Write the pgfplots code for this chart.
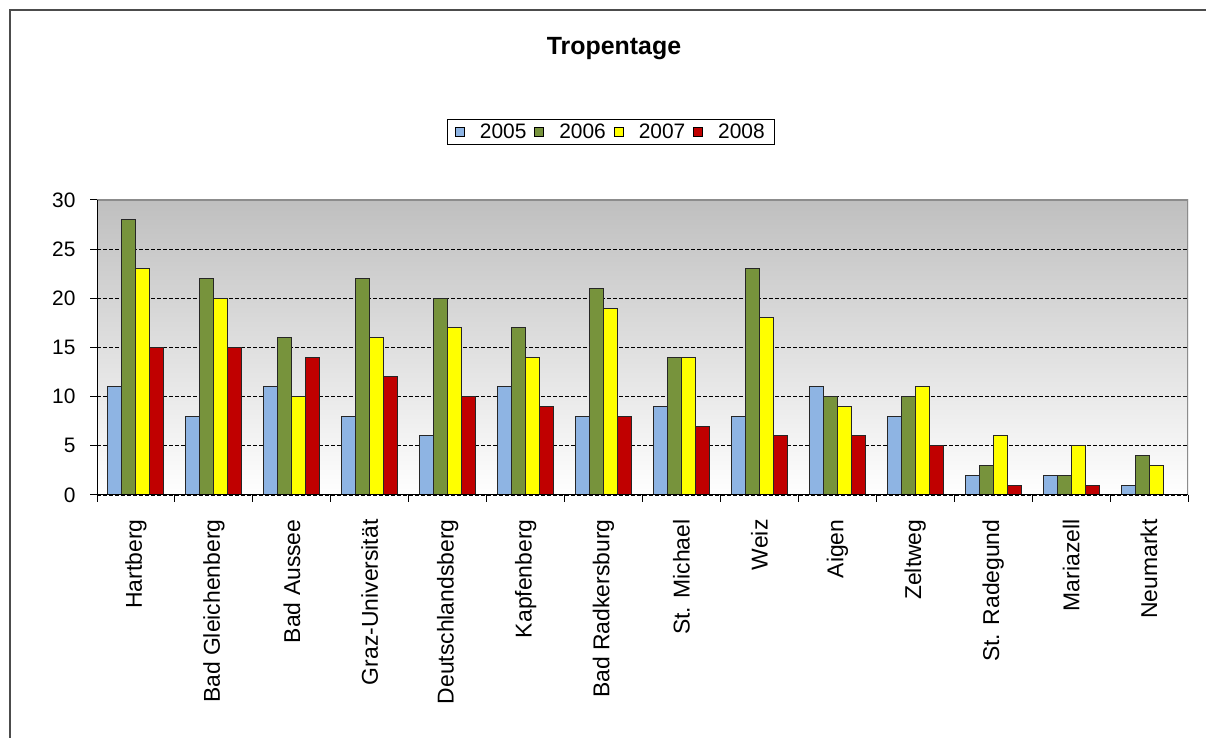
\documentclass[border=0pt]{standalone}
\usepackage{fontspec}
\setmainfont{Liberation Sans}
\usepackage{pgfplots}
\usepackage{pgfplotstable}
\pgfplotsset{compat=1.18}
\definecolor{c05}{HTML}{8EB4E3}
\definecolor{c06}{HTML}{77933C}
\definecolor{c07}{HTML}{FFFF00}
\definecolor{c08}{HTML}{C00000}
\pgfplotstableread{
x a b c d
0 11 28 23 15
1 8 22 20 15
2 11 16 10 14
3 8 22 16 12
4 6 20 17 10
5 11 17 14 9
6 8 21 19 8
7 9 14 14 7
8 8 23 18 6
9 11 10 9 6
10 8 10 11 5
11 2 3 6 1
12 2 2 5 1
13 1 4 3 nan
}\datatable
\begin{document}
\begin{tikzpicture}[x=1bp,y=1bp]
\useasboundingbox (0,0) rectangle (1206,738);
\fill[white] (0,0) rectangle (1206,738);
\draw[line width=2bp, color=black!70] (10,-20) -- (10,728) -- (1240,728);
\node[font=\fontsize{25}{30}\selectfont\bfseries] at (614,689) {Tropentage};
\begin{axis}[
  at={(97bp,243bp)}, anchor=south west, scale only axis,
  width=1091bp, height=295bp,
  ymin=0, ymax=30, ytick={0,5,...,30},
  xmin=-0.5, xmax=13.5,
  ybar=0pt, bar width=14bp,
  axis line style={draw=none},
  axis background/.style={top color=black!25, bottom color=white},
  ymajorgrids, grid style={dashed, black, line width=0.9bp, dash pattern=on 4bp off 2bp},
  tick align=outside, xtick pos=bottom, ytick pos=left,
  major tick length=7bp,
  tick style={black, line width=1bp},
  xtick={-0.5,0.5,...,13.5}, xticklabels={},
  extra x ticks={0,1,...,13},
  extra x tick labels={Hartberg,Bad Gleichenberg,Bad Aussee,Graz-Universität,Deutschlandsberg,Kapfenberg,Bad Radkersburg,St. Michael,Weiz,Aigen,Zeltweg,St. Radegund,Mariazell,Neumarkt},
  extra x tick style={major tick length=0pt, tick style={draw=none},
    xticklabel style={yshift=-21bp, rotate=90, anchor=east, font=\fontsize{23}{27}\selectfont}},
  yticklabel style={xshift=-11bp, font=\fontsize{21}{25}\selectfont},
  /pgf/number format/assume math mode=true,
  legend columns=4,
  legend image code/.code={\draw[#1, draw=black, line width=0.9bp] (0bp,-4.5bp) rectangle (9bp,4.5bp);},
  legend style={at={(0.471,1.2305)}, anchor=center, draw=black, line width=0.9bp,
    font=\fontsize{21}{25}\selectfont, inner xsep=8bp, inner ysep=2bp,
    nodes={inner xsep=2bp},
    /tikz/every even column/.append style={column sep=6bp},
    /tikz/every odd column/.append style={column sep=13bp}},
]
\addplot[fill=c05, draw=black!85, line width=1bp] table[x=x,y=a] {\datatable};
\addplot[fill=c06, draw=black!85, line width=1bp] table[x=x,y=b] {\datatable};
\addplot[fill=c07, draw=black!85, line width=1bp] table[x=x,y=c] {\datatable};
\addplot[fill=c08, draw=black!85, line width=1bp] table[x=x,y=d] {\datatable};
\legend{2005,2006,2007,2008}
\draw[black!45, line width=1.5bp] (rel axis cs:0,1) -- (rel axis cs:1,1) -- (rel axis cs:1,0);
\draw[black, line width=1.2bp] (rel axis cs:0,1) -- (rel axis cs:0,0) -- (rel axis cs:1,0);
\end{axis}
\end{tikzpicture}
\end{document}
